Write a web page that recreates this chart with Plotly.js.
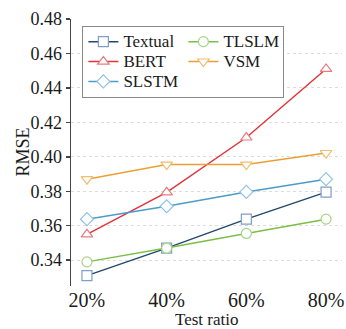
<!DOCTYPE html>
<html>
<head>
<meta charset="utf-8">
<script src="https://cdn.plot.ly/plotly-3.0.1.min.js"></script>
<style>html,body{margin:0;padding:0;background:#fff;}#chart{width:346px;height:329px;}</style>
</head>
<body>
<div id="chart"></div>
<script>
var testRatio = [20, 40, 60, 80];
var textual = [0.331, 0.347, 0.3638, 0.3795];
var tlslm = [0.339, 0.347, 0.3555, 0.3638];
var bert = [0.355, 0.3794, 0.4112, 0.451];
var vsm = [0.387, 0.3955, 0.3955, 0.4022];
var slstm = [0.3638, 0.3713, 0.3796, 0.387];
var tickVals = [20, 40, 60, 80];
var tickText = ['20%', '40%', '60%', '80%'];
var seriesNames = ['Textual', 'TLSLM', 'BERT', 'VSM', 'SLSTM'];

function tr(name, y, lineColor, markColor, symbol, xa) {
  return {
    x: testRatio, y: y, name: '<span style="font-size:17px">' + name + '</span>',
    type: 'scatter', mode: 'lines+markers', xaxis: xa || 'x',
    line: {color: lineColor, width: 1.5},
    marker: {symbol: symbol, size: 10, color: '#ffffff', line: {color: markColor, width: 1.2}}
  };
}
var data = [
  tr(seriesNames[0], textual, '#24496b', '#7f9fc4', 'square', 'x2'),
  tr(seriesNames[1], tlslm, '#7bbf45', '#a6d486', 'circle', 'x2'),
  tr(seriesNames[2], bert, '#e2343b', '#e77b80', 'triangle-up', 'x2'),
  tr(seriesNames[3], vsm, '#e9a032', '#efbd6e', 'triangle-down', 'x2'),
  tr(seriesNames[4], slstm, '#4b9cc9', '#8fc3e2', 'diamond', 'x2')
];
var layout = {
  width: 346, height: 329,
  margin: {l: 71, r: 4, t: 19, b: 43},
  paper_bgcolor: '#fff', plot_bgcolor: '#fff',
  font: {family: 'Liberation Serif, Times New Roman, serif', color: '#1a1a1a', size: 17},
  showlegend: true,
  legend: {
    x: 0.042, y: 0.975, xanchor: 'left', yanchor: 'top',
    orientation: 'h', entrywidth: 55,
    bordercolor: '#8a8a8a', borderwidth: 1, bgcolor: '#fff',
    font: {size: 13}, tracegroupgap: 0
  },
  xaxis: {
    range: [16, 84], tickvals: tickVals, ticktext: tickText,
    showline: true, linecolor: '#444', linewidth: 1.5,
    ticks: 'outside', ticklen: 3, tickcolor: '#444', tickwidth: 1.5,
    showgrid: true, gridcolor: '#dcdcdc', griddash: 'dot', gridwidth: 1,
    zeroline: false, showticklabels: false
  },
  xaxis2: {
    overlaying: 'x', anchor: 'free', position: 0, side: 'bottom',
    range: [16, 84], tickvals: tickVals, ticktext: tickText,
    showline: false, ticks: '', showgrid: false, zeroline: false,
    tickfont: {size: 20}
  },
  yaxis: {
    range: [0.325, 0.48], tickvals: [0.34, 0.36, 0.38, 0.40, 0.42, 0.44, 0.46, 0.48],
    tickformat: '.2f',
    showline: true, linecolor: '#444', linewidth: 1.5,
    ticks: 'outside', ticklen: 4, tickcolor: '#444', tickwidth: 1.5,
    showgrid: true, gridcolor: '#dcdcdc', griddash: 'dot', gridwidth: 1,
    zeroline: false, tickfont: {size: 18}
  },
  annotations: [
    {text: 'Test ratio', xref: 'paper', yref: 'paper', x: 0.5, y: -(319 - 286) / 267,
     xanchor: 'center', yanchor: 'middle', showarrow: false, font: {size: 17}},
    {text: 'RMSE', xref: 'paper', yref: 'paper', x: (22 - 71) / 271, y: 0.5, textangle: -90,
     xanchor: 'center', yanchor: 'middle', showarrow: false, font: {size: 18}}
  ]
};
Plotly.newPlot('chart', data, layout, {displayModeBar: false, staticPlot: true});
</script>
</body>
</html>
